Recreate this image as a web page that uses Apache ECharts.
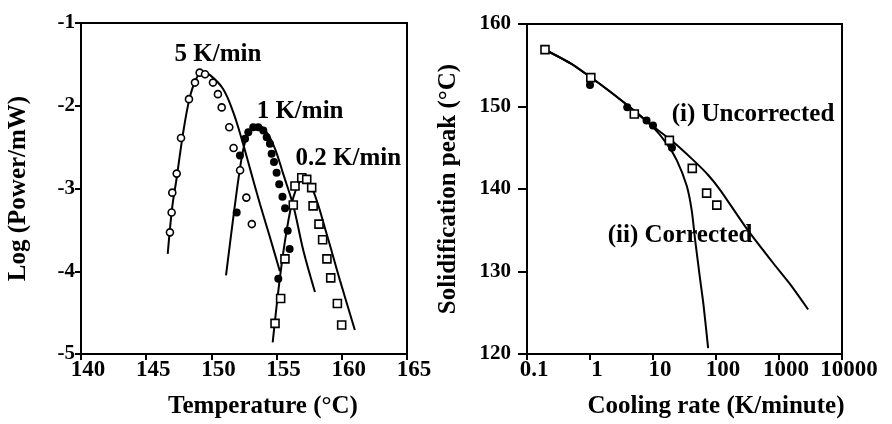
<!DOCTYPE html>
<html>
<head>
<meta charset="utf-8">
<script src="https://cdn.jsdelivr.net/npm/echarts@6/dist/echarts.min.js"></script>
<style>
  html, body { margin: 0; padding: 0; background: #fff; }
  #chart { width: 892px; height: 424px; }
</style>
</head>
<body>
<div id="chart"></div>
<script>
// left panel: log power vs temperature
const rate5Points = [[146.82,-3.53],[146.95,-3.29],[147.0,-3.05],[147.34,-2.82],[147.67,-2.39],[148.28,-1.92],[148.74,-1.72],[149.1,-1.6],[149.51,-1.62],[150.12,-1.72],[150.5,-1.86],[150.79,-2.02],[151.37,-2.26],[151.7,-2.51],[152.2,-2.78],[152.68,-3.11],[153.1,-3.43]]
const rate5Fit = [[146.65,-3.79],[147.0,-3.22],[147.34,-2.87],[147.8,-2.36],[148.31,-1.92],[148.82,-1.68],[149.3,-1.59],[149.9,-1.63],[150.91,-1.8],[151.68,-2.08],[152.32,-2.4],[152.96,-2.76],[153.73,-3.19],[154.49,-3.59],[155.25,-4.0]]
const rate1Points = [[151.94,-3.29],[152.19,-2.6],[152.58,-2.4],[152.83,-2.32],[153.21,-2.26],[153.6,-2.26],[153.98,-2.3],[154.24,-2.38],[154.49,-2.46],[154.62,-2.58],[154.8,-2.68],[155.0,-2.81],[155.2,-2.95],[155.45,-3.1],[155.65,-3.24],[155.85,-3.51],[156.0,-3.73],[155.13,-4.09]]
const rate1Fit = [[151.12,-4.05],[151.68,-3.35],[152.19,-2.76],[152.58,-2.44],[153.09,-2.28],[153.6,-2.24],[154.24,-2.32],[154.88,-2.52],[155.5,-2.82],[156.3,-3.22],[157.05,-3.75],[157.94,-4.25]]
const rate02Points = [[154.88,-4.63],[155.31,-4.33],[155.64,-3.85],[156.28,-3.2],[156.41,-2.97],[156.93,-2.87],[157.31,-2.89],[157.69,-2.99],[157.8,-3.21],[158.25,-3.43],[158.53,-3.62],[158.86,-3.85],[159.15,-4.08],[159.66,-4.39],[159.99,-4.65]]
const rate02Fit = [[154.7,-4.86],[155.26,-4.07],[155.77,-3.51],[156.28,-3.11],[156.79,-2.91],[157.1,-2.87],[157.81,-3.03],[158.84,-3.55],[159.86,-4.11],[161.0,-4.71]]
const tempTicks = [140, 145, 150, 155, 160, 165]
const powerTicks = [-5, -4, -3, -2, -1]

// right panel: solidification peak vs cooling rate
const peakSquares = [[0.193,156.9],[1.03,153.5],[5.05,149.1],[18.2,145.9],[42,142.5],[71,139.5],[103,138.05]]
const peakDots = [[1.0,152.6],[3.9,149.9],[7.9,148.3],[10,147.7],[20,145.0]]
const uncorrectedFit = [[0.18,157.0],[0.5,155.2],[1,153.6],[2,151.9],[5,149.5],[10,147.6],[21,145.7],[43.6,143.5],[75,141.7],[116,139.9],[307,135.2],[813,131.0],[1490,128.5],[2900,125.4]]
const correctedFit = [[0.18,157.0],[0.5,155.2],[1,153.6],[2,151.9],[5,149.5],[10,147.5],[16.5,145.5],[23.8,143.5],[34.3,140.4],[41,137.5],[46.5,133.9],[55,129.5],[63,126.1],[75,120.7]]
const rateTicks = [0.1, 1, 10, 100, 1000, 10000]
const peakTicks = [120, 130, 140, 150, 160]

const font = "'Liberation Serif', 'Times New Roman', serif"
const ink = '#000'
const txt = { fontFamily: font, fontWeight: 'bold', color: ink }

// text placed at a data position
const tag = (text, coord) => ({
  symbol: 'circle',
  symbolSize: 0,
  silent: true,
  label: { show: true, position: 'inside', formatter: text, ...txt, fontSize: 25 },
  data: [{ coord: coord }],
})

const axisCommon = {
  axisLine: { onZero: false, lineStyle: { color: ink, width: 2 } },
  axisTick: { show: true, inside: false, length: 6, lineStyle: { color: ink, width: 2 } },
  splitLine: { show: false },
  nameTextStyle: { ...txt, fontSize: 25 },
}
const xLabel = { ...txt, fontSize: 23, margin: 5, padding: [0, 0, 0, 14] }
const yLabel = { ...txt, fontSize: 21, padding: [0, 0, 8, 0] }

const lineBase = { type: 'line', smooth: 0.35, symbol: 'none', lineStyle: { color: ink, width: 2 }, z: 3 }
const hollow = { color: '#fff', borderColor: ink, borderWidth: 1.6, opacity: 1 }
const filled = { color: ink, opacity: 1 }

const option = {
  animation: false,
  backgroundColor: '#fff',
  grid: [
    { left: 81, right: 485, top: 23, bottom: 66, show: true, borderColor: ink, borderWidth: 2 },
    { left: 527, right: 50, top: 24, bottom: 67, show: true, borderColor: ink, borderWidth: 2 },
  ],
  xAxis: [
    {
      ...axisCommon, gridIndex: 0, type: 'value', min: tempTicks[0], max: tempTicks[tempTicks.length - 1], interval: 5,
      name: 'Temperature (°C)', nameLocation: 'middle', nameGap: 40,
      nameTextStyle: { ...axisCommon.nameTextStyle, padding: [0, 0, 0, 38] },
      axisLabel: xLabel,
    },
    {
      ...axisCommon, gridIndex: 1, type: 'log', logBase: 10, min: rateTicks[0], max: rateTicks[rateTicks.length - 1],
      name: 'Cooling rate (K/minute)', nameLocation: 'middle', nameGap: 40,
      nameTextStyle: { ...axisCommon.nameTextStyle, padding: [0, 0, 0, 63] },
      axisLabel: { ...xLabel, formatter: v => String(v) },
      minorTick: { show: false },
    },
  ],
  yAxis: [
    {
      ...axisCommon, gridIndex: 0, type: 'value', min: powerTicks[0], max: powerTicks[powerTicks.length - 1], interval: 1,
      name: 'Log (Power/mW)', nameLocation: 'middle', nameGap: 50,
      axisLabel: { ...yLabel, margin: 6 },
    },
    {
      ...axisCommon, gridIndex: 1, type: 'value', min: peakTicks[0], max: peakTicks[peakTicks.length - 1], interval: 10,
      name: 'Solidification peak (°C)', nameLocation: 'middle', nameGap: 66,
      axisTick: { ...axisCommon.axisTick, length: 9 },
      axisLabel: { ...yLabel, margin: 16 },
    },
  ],
  series: [
    { ...lineBase, xAxisIndex: 0, yAxisIndex: 0, data: rate5Fit, markPoint: tag('5 K/min', [150.5, -1.38]) },
    { ...lineBase, xAxisIndex: 0, yAxisIndex: 0, data: rate1Fit, markPoint: tag('1 K/min', [156.8, -2.07]) },
    { ...lineBase, xAxisIndex: 0, yAxisIndex: 0, data: rate02Fit, markPoint: tag('0.2 K/min', [160.5, -2.64]) },
    { type: 'scatter', xAxisIndex: 0, yAxisIndex: 0, data: rate5Points, symbol: 'circle', symbolSize: 7, itemStyle: hollow, z: 4 },
    { type: 'scatter', xAxisIndex: 0, yAxisIndex: 0, data: rate1Points, symbol: 'circle', symbolSize: 8, itemStyle: filled, z: 4 },
    { type: 'scatter', xAxisIndex: 0, yAxisIndex: 0, data: rate02Points, symbol: 'rect', symbolSize: 8, itemStyle: hollow, z: 4 },
    { ...lineBase, smooth: 0.2, xAxisIndex: 1, yAxisIndex: 1, data: uncorrectedFit, markPoint: tag('(i) Uncorrected', [386, 149.07]) },
    { ...lineBase, smooth: 0.25, xAxisIndex: 1, yAxisIndex: 1, data: correctedFit, markPoint: tag('(ii) Corrected', [26.9, 134.4]) },
    { type: 'scatter', xAxisIndex: 1, yAxisIndex: 1, data: peakDots, symbol: 'circle', symbolSize: 8, itemStyle: filled, z: 4 },
    { type: 'scatter', xAxisIndex: 1, yAxisIndex: 1, data: peakSquares, symbol: 'rect', symbolSize: 8, itemStyle: hollow, z: 5 },
  ],
}

const chart = echarts.init(document.getElementById('chart'))
chart.setOption(option)
</script>
</body>
</html>
